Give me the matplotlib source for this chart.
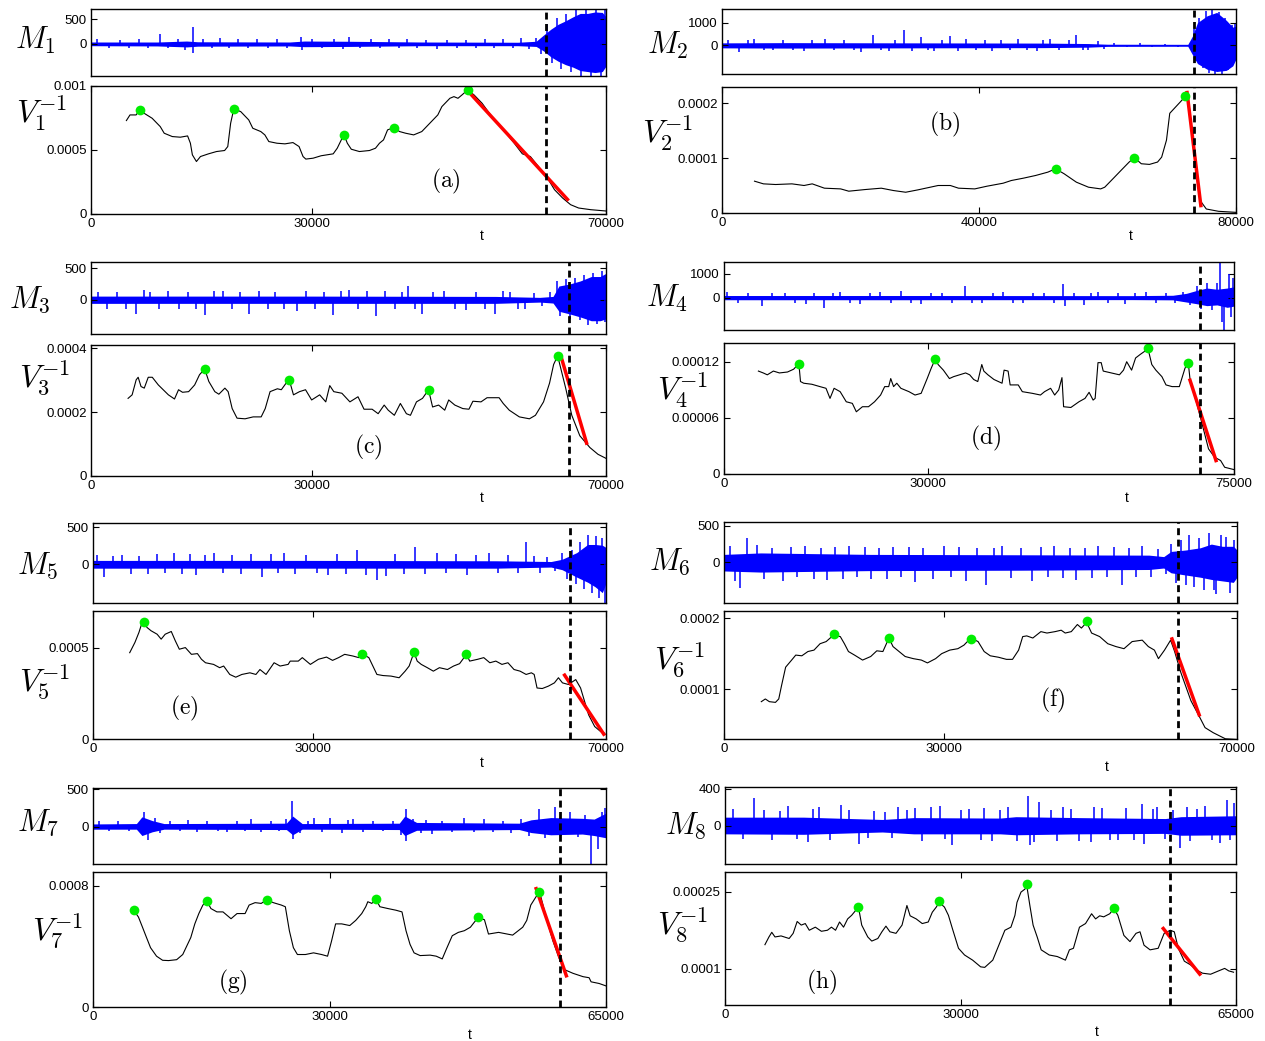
import numpy as np
import matplotlib
matplotlib.use("Agg")
import matplotlib.pyplot as plt

plt.rcParams["mathtext.fontset"] = "cm"
plt.rcParams["font.family"] = ["Liberation Sans", "DejaVu Sans"]

# ---------------- data ----------------
# (a)
a_t = [4810, 5300, 6130, 6620, 7220, 8310, 9410, 9950, 11050, 12140, 13130, 13510, 13780, 14330, 14880, 15970,
       17060, 18160, 18590, 18980, 19410, 20350, 21440, 21990, 23080, 23630, 24170, 25270, 26360, 27450, 28280,
       28820, 29200, 30190, 31280, 32920, 33470, 34020, 34400, 34840, 35380, 36480, 37850, 38670, 39210, 39760,
       40310, 41130, 41950, 42770, 43860, 44960, 46050, 47140, 47690, 48780, 49330, 49880, 50420, 51190, 52070,
       53160, 54800, 56440, 57530, 58630, 59720, 60810, 61910, 63000, 64100, 65190, 66280, 67920, 70000]
a_v = [7.30, 7.74, 7.74, 8.13, 7.87, 7.48, 6.83, 6.31, 6.05, 6.00, 6.10, 5.53, 4.62, 4.10, 4.49, 4.70, 4.88, 4.96,
       5.27, 7.09, 8.21, 8.00, 7.35, 6.70, 6.44, 6.18, 5.66, 5.53, 5.48, 5.58, 5.27, 4.49, 4.29, 4.36, 4.55, 4.70,
       5.14, 5.79, 6.18, 5.53, 5.06, 4.88, 4.96, 5.14, 5.53, 5.79, 6.57, 6.75, 6.44, 6.31, 6.18, 6.44, 7.09, 7.74,
       8.39, 9.04, 9.17, 9.04, 9.30, 9.69, 9.30, 8.65, 7.35, 6.31, 5.53, 4.70, 4.49, 3.71, 2.93, 1.90, 1.25, 0.727,
       0.467, 0.338, 0.234]  # x1e-4
a_dot_t = [6620, 19410, 34400, 41130, 51190]
a_dot_v = [8.13, 8.21, 6.18, 6.75, 9.69]
a_red_t = [51520, 64920]
a_red_v = [9.43, 1.04]
a_crit = 61910
a_mt = [0, 9000, 13000, 14500, 27000, 29000, 35000, 45000, 58000, 60500, 61500, 62500, 63500, 64500, 65500, 66500,
        67500, 68500, 69500, 70000]
a_mhi = [40, 40, 60, 45, 40, 60, 55, 40, 35, 55, 180, 300, 400, 470, 550, 620, 620, 650, 640, 550]
a_mlo = [-35, -40, -60, -45, -40, -55, -50, -35, -35, -50, -140, -260, -350, -420, -470, -540, -560, -580, -560, -450]
a_st = [800, 2500, 4000, 5200, 6500, 7800, 9400, 10500, 11800, 12800, 13800, 13900, 15200, 16400, 17500, 18800,
        20000, 21300, 22600, 24000, 25300, 26600, 28500, 28700, 30000, 31400, 33000, 34200, 35000, 36500, 38000,
        39300, 40500, 41800, 43000, 44300, 45600, 47000, 48400, 49700, 51000, 52300, 53600, 54800, 56000, 57300,
        58500, 59600, 60500, 61200, 62000, 62600, 63300, 63900, 64600, 65200, 65900, 66600, 67300, 68000, 68700,
        69300, 69800]
a_sv = [95, -80, 90, -85, 100, -90, 200, -90, 100, -120, 350, -180, 110, -90, 120, -85, 95, -90, 100, -85, 95, -90,
        140, -120, 100, -90, 110, -100, 150, -90, 100, -85, 110, -90, 95, -80, 90, -100, 85, -80, 90, -85, 100, -80,
        110, -80, 120, -100, 130, -200, 400, -380, 520, -500, 600, -560, 700, -640, 700, -650, 700, -640, 700]

# (b)
b_t = [5060, 6450, 8350, 10880, 12770, 14040, 15940, 18470, 19730, 22260, 24790, 26690, 28590, 30480, 33640, 35540,
       36810, 39340, 41230, 43760, 45030, 46920, 48820, 50720, 51920, 53250, 55150, 57040, 58940, 59570, 60840,
       62100, 63370, 64190, 65260, 66530, 67790, 68430, 69180, 69690, 70640, 71590, 72030, 72500, 73170, 73800,
       74430, 75380, 77280, 80000]
b_v = [5.81, 5.32, 5.20, 5.32, 5.02, 5.32, 4.53, 4.40, 3.98, 4.28, 4.53, 4.10, 3.79, 4.22, 5.02, 5.02, 4.53, 4.40,
       4.89, 5.44, 5.93, 6.36, 6.85, 7.46, 8.07, 7.16, 5.63, 4.71, 4.40, 4.71, 6.24, 7.77, 9.30, 10.1, 8.99, 8.87,
       9.30, 10.2, 13.3, 18.2, 19.4, 20.6, 21.3, 21.2, 14.5, 7.16, 2.26, 0.73, 0.31, 0.12]  # x1e-5
b_dot_t = [51920, 64190, 72030]
b_dot_v = [8.07, 10.1, 21.3]
b_red_t = [72350, 74560]
b_red_v = [22.3, 1.04]
b_crit = 73490
b_mt = [0, 10000, 30000, 50000, 57000, 60000, 72500, 73200, 74000, 75500, 77000, 78500, 79500, 80000]
b_mhi = [110, 120, 110, 100, 80, 50, 45, 400, 1000, 1300, 1450, 1100, 800, 850]
b_mlo = [-110, -120, -110, -100, -80, -45, -40, -400, -800, -1050, -1150, -1100, -900, -600]
b_st = [1000, 2600, 4000, 5000, 6500, 8000, 9500, 11000, 12800, 14000, 16000, 17500, 19000, 20500, 21600, 23500,
        24800, 26000, 27000, 28300, 29500, 31000, 32000, 33000, 34200, 35500, 36800, 38000, 39500, 41000, 42000,
        43500, 44800, 46000, 47500, 49000, 50000, 51000, 52500, 54000, 55100, 56200, 57000, 58500, 59500, 61000,
        63000, 65000, 67000, 69000, 71000, 73400, 73700, 74300, 74800, 75300, 75800, 76300, 76800, 77300, 77800,
        78300, 78800, 79300, 79800]
b_sv = [220, -280, 230, 260, -220, -220, 250, -200, -240, 230, 300, -220, 250, -200, -300, 450, -220, -250, 250,
        670, -230, 350, -200, -250, 250, 430, -230, 300, -220, 250, -250, 230, -210, 300, -220, -230, 250, 300,
        -200, 250, 450, -200, -200, 180, -150, 90, -80, 90, -70, 80, -70, 700, -700, 1200, -1000, 1500, -1200,
        1600, -1250, 1450, -1250, 1200, -1100, 900, 950]

# (c)
c_t = [5040, 5590, 6140, 6410, 6800, 7240, 7780, 8330, 9150, 10520, 11350, 11900, 12440, 13270, 14090, 14750,
       15460, 16010, 16830, 17380, 18200, 18640, 19190, 19850, 20940, 22040, 23130, 23680, 24340, 25330, 25870,
       26530, 26970, 27520, 28340, 29160, 29990, 31080, 31910, 32450, 33000, 34100, 35190, 36290, 37110, 38210,
       39030, 39850, 40400, 41230, 42050, 42870, 43420, 44240, 45060, 45880, 46430, 47250, 48080, 48620, 49450,
       50540, 51370, 51910, 53010, 53830, 55470, 56030, 56850, 58220, 59590, 60410, 61510, 62330, 62880, 63430,
       64520, 65350, 66440, 67810, 68910, 70000]
c_v = [2.43, 2.54, 3.01, 3.09, 2.80, 2.75, 3.09, 3.09, 2.85, 2.54, 2.41, 2.70, 2.62, 2.64, 2.85, 3.17, 3.35, 2.96,
       2.64, 2.56, 2.75, 2.64, 2.11, 1.81, 1.79, 1.85, 1.85, 2.11, 2.64, 2.73, 2.70, 2.91, 2.99, 2.54, 2.64, 2.70,
       2.38, 2.54, 2.32, 2.83, 2.64, 2.59, 2.32, 2.48, 2.09, 2.09, 1.95, 2.22, 2.06, 1.90, 2.27, 1.95, 1.90, 2.32,
       2.43, 2.70, 2.16, 2.22, 2.06, 2.38, 2.22, 2.11, 2.09, 2.34, 2.32, 2.45, 2.45, 2.27, 2.06, 1.85, 1.79, 1.90,
       2.32, 2.91, 3.49, 3.76, 2.75, 1.90, 1.26, 0.891, 0.679, 0.552]  # x1e-4
c_dot_t = [15460, 26970, 45880, 63430]
c_dot_v = [3.35, 2.99, 2.70, 3.76]
c_red_t = [63860, 67430]
c_red_v = [3.76, 0.976]
c_crit = 64960
c_mt = [0, 30000, 55000, 61000, 62800, 63600, 65000, 66500, 68000, 69200, 70000]
c_mhi = [60, 60, 55, 40, 55, 220, 250, 300, 370, 370, 420]
c_mlo = [-55, -55, -55, -35, -50, -180, -220, -270, -330, -330, -300]
c_st = [1000, 2200, 3500, 4800, 6100, 7200, 8000, 9300, 10500, 12000, 13200, 14300, 15500, 16700, 18000, 19200,
        20300, 21500, 22800, 24000, 25000, 26300, 28000, 29200, 30500, 31700, 32900, 34000, 35000, 36300, 37500,
        38800, 40000, 41300, 42300, 43100, 44000, 45000, 46500, 48000, 49500, 51000, 52300, 53500, 54900, 56000,
        57000, 58000, 59000, 60200, 61300, 62400, 63300, 63800, 64500, 65100, 65800, 66400, 67000, 67600, 68200,
        68800, 69400, 69900]
c_sv = [120, -150, 130, -140, -230, 150, 130, -150, 140, -150, 130, -140, -240, 140, 140, -150, 130, -220, 140,
        -150, 130, -140, -170, 140, -150, 130, -240, 140, 150, -150, 140, -260, 140, -150, 130, 220, -150, -230,
        130, 140, -150, -160, 130, -140, -230, 140, 130, -140, -140, 110, -90, 120, 300, -250, 330, -300, 350,
        -320, 400, -400, 430, -380, 460, -350]

# (d)
d_t = [5060, 5770, 6370, 7260, 8150, 9340, 10240, 11010, 11250, 11730, 12920, 14110, 15000, 15590, 16190, 17080,
       17980, 18870, 19460, 20360, 21250, 22140, 23030, 23630, 24220, 24520, 24940, 25410, 26010, 27200, 28090,
       28990, 29880, 30470, 31070, 31490, 32260, 33150, 33750, 34640, 35530, 36130, 36720, 37320, 37910, 38210,
       38810, 39700, 40890, 41190, 41780, 42080, 43270, 43870, 45350, 46540, 47140, 48030, 48630, 49220, 49700,
       49940, 51010, 52200, 53090, 53690, 54280, 54580, 55000, 55470, 55770, 56960, 58150, 58750, 59220, 59940,
       60530, 61250, 61840, 62320, 62910, 63510, 64400, 65000, 65890, 66960, 67790, 68270, 68570, 69460, 70360,
       71250, 72140, 73030, 73630, 75000]
d_v = [11.0, 10.8, 10.6, 11.0, 10.8, 10.9, 11.2, 11.8, 9.88, 9.70, 9.59, 9.34, 9.16, 8.08, 9.16, 8.80, 7.72, 7.55,
       6.65, 7.19, 7.19, 7.72, 8.44, 9.34, 9.34, 10.2, 9.34, 9.70, 9.16, 8.80, 8.44, 8.62, 10.2, 11.3, 12.3, 11.7,
       11.1, 10.2, 10.4, 10.6, 10.8, 10.6, 10.1, 9.88, 11.7, 11.0, 10.6, 10.1, 9.70, 11.1, 11.0, 9.52, 9.52, 8.80,
       8.62, 8.44, 8.80, 9.16, 8.44, 8.98, 10.3, 7.19, 7.11, 7.72, 8.08, 8.73, 7.90, 8.08, 11.9, 11.9, 11.0, 10.8,
       10.6, 11.1, 12.0, 11.1, 12.4, 12.8, 13.1, 13.5, 11.7, 11.1, 10.4, 9.52, 9.34, 9.34, 11.3, 11.9, 9.88, 7.72,
       5.21, 2.69, 1.80, 1.44, 0.72, 0.47]  # x1e-5
d_dot_t = [11010, 31070, 62320, 68270]
d_dot_v = [11.8, 12.3, 13.5, 11.9]
d_red_t = [68450, 72430]
d_red_v = [10.2, 1.26]
d_crit = 69940
d_mt = [0, 30000, 60000, 66000, 68000, 69500, 71000, 72500, 74000, 75000]
d_mhi = [90, 90, 85, 100, 180, 300, 400, 350, 400, 450]
d_mlo = [-85, -85, -80, -90, -180, -250, -330, -300, -400, -350]
d_st = [500, 2000, 3500, 5600, 7000, 9000, 10500, 12000, 13200, 14700, 16000, 17000, 18500, 20000, 21500, 23000,
        24500, 26000, 27500, 29000, 30500, 32000, 33500, 35500, 36500, 38000, 39500, 41000, 42500, 44000, 45500,
        47000, 48500, 49800, 50100, 51500, 53000, 54000, 55000, 56500, 58000, 59000, 60500, 62000, 63500, 65000,
        66300, 67500, 68500, 69500, 70200, 71000, 71800, 72500, 73000, 73200, 73600, 74200, 74500, 74900]
d_sv = [250, -200, 180, -340, 200, 200, -220, -250, 200, -410, 200, 230, -220, -260, 200, 220, -220, 280, -200,
        -260, 200, 200, -220, 500, -200, -230, 200, 230, -210, -240, 200, 200, -220, 550, -350, 200, -300, 200,
        250, -220, 200, -260, 200, 230, -220, 200, -200, 250, -300, 500, -450, 600, -500, 600, 1480, -1000, -1340,
        1000, -800, 800]

# (e)
e_t = [5010, 5720, 6270, 6660, 6930, 7370, 7920, 8750, 9300, 9850, 10680, 11230, 11780, 12600, 13430, 14250, 14800,
       15350, 16450, 17280, 17830, 18660, 19480, 20310, 21410, 22230, 22780, 23610, 24710, 25530, 26630, 26910,
       28010, 28560, 29660, 30760, 31860, 32690, 33510, 34340, 35440, 36270, 36650, 37640, 38190, 38740, 39570,
       40670, 41770, 42590, 43140, 43800, 44240, 44790, 45620, 46440, 47270, 48370, 49200, 50020, 50960, 51400,
       52500, 53320, 54150, 54970, 55800, 56620, 57450, 58280, 59100, 59820, 60200, 60590, 61300, 62130, 62960,
       63510, 64060, 64880, 65870, 66530, 67630, 68460, 69280, 69830]
e_v = [4.72, 5.28, 5.83, 6.32, 6.41, 6.10, 5.92, 5.73, 5.46, 5.73, 5.88, 5.37, 4.91, 5.00, 4.63, 4.67, 4.36, 4.17,
       4.08, 3.90, 3.99, 3.53, 3.38, 3.53, 3.62, 3.53, 3.80, 3.53, 4.17, 3.99, 4.08, 4.26, 4.26, 4.45, 4.08, 4.36,
       4.48, 4.30, 4.45, 4.63, 4.54, 4.45, 4.67, 4.45, 3.99, 3.53, 3.47, 3.44, 3.35, 3.71, 3.99, 4.74, 4.26, 4.08,
       3.90, 3.71, 3.90, 3.80, 3.99, 4.12, 4.63, 4.26, 4.36, 4.45, 4.17, 4.26, 4.08, 4.17, 3.80, 3.71, 3.53, 3.62,
       3.53, 2.79, 2.76, 2.89, 3.07, 3.35, 3.07, 2.98, 3.25, 2.79, 1.32, 0.680, 0.404, 0.312]  # x1e-4
e_dot_t = [6930, 36650, 43800, 50960]
e_dot_v = [6.41, 4.67, 4.74, 4.63]
e_red_t = [64220, 69830]
e_red_v = [3.57, 0.184]
e_crit = 65050
e_mt = [0, 30000, 55000, 62500, 64000, 66000, 67500, 68500, 69500, 70000]
e_mhi = [55, 55, 50, 40, 70, 160, 270, 270, 260, 230]
e_mlo = [-50, -50, -50, -35, -70, -170, -240, -300, -380, -250]
e_st = [600, 1500, 2700, 4000, 5200, 6300, 7500, 8700, 9800, 11000, 12200, 13200, 14000, 15300, 16500, 17700,
        19000, 20200, 21500, 23000, 24300, 25300, 26000, 27500, 29000, 30500, 32000, 33300, 34500, 36000, 37300,
        38700, 40000, 41200, 42500, 44000, 45300, 47000, 48200, 49500, 51000, 52300, 54000, 55300, 56600, 58000,
        59100, 60200, 61000, 62000, 63000, 64000, 64700, 65300, 65900, 66500, 67000, 67600, 68100, 68600, 69100,
        69500, 69800]
e_sv = [130, -170, 120, 130, -130, 120, -130, 140, -120, 150, -130, 140, -140, 130, 150, -120, 130, -130, 140, -170,
        140, -120, 150, -130, 130, -120, -140, 140, -130, 200, -140, -210, -160, 140, -130, 230, -130, 150, -120,
        140, -140, 130, 160, -120, 130, -110, 300, 110, -120, 100, -90, 150, -200, 200, -260, 300, -330, 400, -380,
        380, -450, 360, -520]

# (f)
f_t = [5090, 5640, 6190, 7020, 7470, 7850, 8410, 9230, 9790, 10620, 11450, 12280, 13110, 13940, 14490, 15040,
       15870, 16430, 16980, 17810, 18910, 20020, 20850, 21680, 22510, 23060, 23890, 24720, 25830, 26930, 27760,
       28870, 29700, 30800, 31910, 32740, 33680, 34670, 35500, 36330, 37440, 38540, 39370, 40200, 40760, 41310,
       42140, 43240, 44070, 45180, 46010, 46560, 47390, 48220, 48770, 49490, 50160, 51260, 52370, 53470, 54580,
       55690, 57070, 57900, 58730, 59280, 60110, 60940, 61490, 62320, 63710, 64810, 65640, 66750, 68410, 69900]
f_v = [8.25, 8.63, 8.25, 8.15, 8.63, 10.5, 13.1, 14.1, 14.8, 14.7, 15.3, 15.5, 16.4, 16.7, 17.2, 17.6, 17.4, 16.4,
       15.3, 14.8, 14.1, 14.6, 15.4, 15.3, 17.2, 16.0, 15.3, 14.6, 14.3, 14.1, 13.7, 14.3, 15.0, 15.5, 15.7, 16.2,
       17.2, 16.7, 15.3, 14.7, 14.5, 14.2, 14.2, 15.5, 17.4, 17.5, 17.2, 18.1, 17.9, 18.1, 18.3, 17.9, 18.1, 19.1,
       18.6, 19.4, 17.9, 17.4, 16.4, 16.0, 15.7, 16.7, 16.9, 16.0, 15.5, 14.3, 15.5, 16.9, 15.3, 12.4, 8.39, 6.26,
       4.60, 3.89, 3.03, 2.94]  # x1e-5
f_dot_t = [15040, 22510, 33680, 49490]
f_dot_v = [17.7, 17.2, 17.1, 19.6]
f_red_t = [61050, 64920]
f_red_v = [17.3, 6.16]
f_crit = 61940
f_mt = [0, 5000, 20000, 40000, 58000, 60000, 61000, 63000, 65000, 66500, 68000, 69500, 70000]
f_mhi = [110, 130, 110, 105, 100, 80, 150, 170, 200, 250, 220, 220, 170]
f_mlo = [-115, -130, -110, -105, -95, -75, -140, -170, -200, -230, -250, -270, -200]
f_st = [800, 1500, 2200, 3150, 4500, 5500, 6500, 8000, 9200, 10000, 11000, 12300, 13200, 14000, 15200, 16200,
        17000, 18200, 19200, 20000, 21200, 22200, 23000, 24200, 25200, 26000, 27200, 28500, 30000, 31000, 32000,
        33000, 34500, 35800, 36800, 38000, 39200, 40500, 42000, 43200, 44200, 45000, 46200, 47200, 48000, 49200,
        50200, 51000, 52200, 53200, 54300, 55300, 56200, 57000, 58200, 59200, 60300, 61000, 61700, 62300, 63000,
        63500, 64200, 64800, 65500, 66200, 66800, 67200, 67800, 68500, 69000, 69600]
f_sv = [230, -250, -350, 330, 240, -220, 200, -250, 210, -200, 220, -220, 200, -240, 210, -220, 230, -200, 210,
        -230, 200, -220, 210, -200, 210, -260, 200, -220, 220, -200, 210, -250, 200, -310, 200, 230, -210, 200,
        -250, 210, -200, 220, -210, 200, -240, 200, -210, 220, -200, 210, -300, 200, -200, 230, -200, 180, -150,
        250, -280, 300, -300, 380, -330, 330, -380, 400, -380, -430, 370, 350, -420, 300]

# (g)
g_t = [5150, 5760, 6270, 6780, 7290, 8050, 8820, 9580, 10600, 11370, 11880, 12390, 12900, 13410, 13920, 14430,
       14940, 15700, 16470, 17490, 18250, 19270, 19780, 20540, 21310, 22020, 22840, 23860, 24370, 24880, 25390,
       25900, 26920, 27940, 28960, 29720, 30230, 30740, 31510, 32530, 33290, 34050, 34560, 34820, 35330, 35840,
       36350, 37370, 38390, 39150, 39660, 40170, 40680, 41450, 42720, 43490, 44250, 44760, 45520, 46290, 47050,
       47820, 48330, 48840, 49600, 50110, 51390, 53170, 54450, 54960, 55470, 56480, 56740, 57510, 58270, 59040,
       59800, 60820, 62090, 62860, 63110, 64130, 65000]
g_v = [6.38, 5.93, 5.26, 4.58, 3.91, 3.35, 3.08, 3.06, 3.12, 3.46, 4.02, 4.58, 5.48, 6.16, 6.72, 6.99, 6.49, 6.27,
       6.27, 5.82, 6.16, 6.16, 6.72, 6.88, 6.83, 7.06, 6.88, 6.72, 6.61, 5.03, 3.91, 3.46, 3.46, 3.57, 3.46, 3.35,
       4.36, 5.48, 5.48, 5.37, 5.71, 6.16, 6.61, 6.94, 6.83, 7.12, 6.61, 6.49, 6.38, 6.27, 5.03, 4.13, 3.57, 3.39,
       3.42, 3.35, 3.17, 3.80, 4.70, 4.92, 5.03, 5.26, 5.60, 5.91, 5.75, 4.81, 4.92, 4.74, 5.26, 5.71, 6.72, 7.55,
       7.28, 5.71, 4.36, 3.24, 2.45, 2.22, 2.00, 1.93, 1.66, 1.55, 1.39]  # x1e-4
g_dot_t = [5150, 14430, 22020, 35840, 48840, 56480]
g_dot_v = [6.42, 6.99, 7.06, 7.12, 5.91, 7.55]
g_red_t = [56080, 60050]
g_red_v = [7.91, 1.95]
g_crit = 59140
g_mt = [0, 5500, 6200, 7500, 9000, 24500, 25300, 26500, 38800, 39500, 41000, 54000, 55500, 58000, 62000, 63500, 65000]
g_mhi = [35, 40, 130, 80, 40, 45, 140, 40, 45, 140, 55, 45, 90, 120, 110, 100, 180]
g_mlo = [-35, -35, -120, -70, -35, -40, -110, -35, -40, -120, -50, -40, -80, -110, -100, -120, -150]
g_st = [800, 2000, 3200, 4500, 6500, 7000, 7800, 8500, 9800, 11000, 12000, 13200, 14500, 15800, 17000, 18200,
        19200, 20000, 21300, 22500, 23600, 24500, 25200, 25300, 26200, 27200, 28000, 29000, 30000, 31500, 32300,
        33000, 34200, 35500, 36700, 38000, 39000, 39600, 39700, 40500, 41500, 42200, 43000, 44200, 45500, 47000,
        48300, 49500, 50700, 52000, 53000, 54200, 55300, 56500, 57300, 58500, 59300, 60500, 61500, 62300, 63100,
        64000, 64500, 64900]
g_sv = [70, -60, 75, -65, 200, -180, 120, -90, 70, -60, 90, -70, 80, -65, -70, 80, -60, 100, -70, 75, -60, 100,
        345, -170, -80, 80, 120, -70, 110, -90, 90, 100, -70, 80, -65, 80, -110, 235, -190, 100, -80, 90, -100, 80,
        -70, 120, -70, 100, -70, 80, -90, 100, -120, 230, -150, 260, -130, 190, -140, 150, -500, -300, 200, 250]

# (h)
h_t = [5080, 5590, 5950, 6360, 7130, 8160, 8670, 9180, 9700, 10210, 10720, 11490, 12260, 13030, 13540, 14060, 14570,
       15080, 15600, 16110, 16980, 17390, 18160, 18670, 19440, 19960, 20470, 20980, 21750, 22520, 23140, 23550,
       24320, 25090, 25850, 26370, 26880, 27240, 27910, 28420, 28930, 29700, 30470, 31500, 32520, 33040, 34060,
       34830, 35600, 36370, 36880, 37140, 37650, 38170, 38370, 38780, 39190, 39710, 40220, 41240, 42270, 43300,
       43810, 44320, 45090, 45860, 46630, 47140, 47660, 48170, 48940, 49450, 49970, 50740, 51510, 52280, 52790,
       53300, 54070, 55100, 55860, 56640, 57150, 57660, 58430, 59200, 59970, 60740, 61770, 62790, 63560, 64070, 64690]
h_v = [14.7, 16.2, 17.1, 16.2, 16.4, 15.9, 16.9, 19.2, 18.5, 18.8, 17.5, 18.1, 17.3, 17.5, 18.1, 17.5, 19.1, 18.1,
       19.7, 20.4, 22.0, 18.5, 16.2, 15.4, 15.9, 17.2, 18.3, 17.2, 16.9, 18.5, 22.3, 20.3, 19.7, 18.8, 19.1, 21.0,
       22.0, 22.9, 22.0, 20.4, 17.8, 14.0, 12.7, 11.7, 10.4, 10.3, 11.7, 14.6, 17.5, 18.1, 20.4, 22.9, 24.9, 25.5,
       26.3, 22.3, 18.5, 16.2, 13.7, 12.7, 12.4, 11.7, 13.7, 14.0, 18.1, 18.8, 20.7, 19.7, 20.3, 20.1, 20.7, 21.7,
       20.4, 16.5, 15.3, 16.9, 17.2, 14.6, 13.7, 14.0, 16.9, 17.5, 17.2, 14.0, 11.5, 10.8, 9.81, 9.17, 8.97, 9.62,
       10.1, 9.62, 9.36]  # x1e-5
h_dot_t = [16980, 27240, 38370, 49450]
h_dot_v = [22.1, 23.1, 26.4, 21.8]
h_red_t = [55610, 60530]
h_red_v = [18.1, 8.72]
h_crit = 56630
h_mt = [0, 10000, 20000, 24000, 35000, 37000, 45000, 56000, 58000, 65000]
h_mhi = [95, 95, 70, 90, 85, 100, 90, 80, 100, 110]
h_mlo = [-85, -90, -65, -85, -85, -95, -85, -80, -100, -95]
h_st = [1000, 2300, 3700, 5000, 6000, 7000, 8000, 9200, 10500, 11200, 12000, 13300, 14800, 15800, 17100, 18200,
        19000, 20300, 21200, 22000, 23200, 24200, 25000, 26200, 27400, 28000, 28900, 30000, 31000, 32500, 33000,
        34000, 35000, 36000, 37200, 38600, 38800, 39300, 40000, 41500, 42200, 43000, 44000, 45000, 46500, 47000,
        48000, 49000, 50000, 51000, 52000, 53000, 53300, 54500, 55000, 56000, 57000, 57900, 58800, 59200, 60000,
        61000, 62000, 63000, 63800, 64300, 64800]
h_sv = [180, -140, 300, 170, -150, 160, 220, -140, -170, 180, 200, -150, 230, 170, -190, -130, 160, 150, -130, 200,
        170, 190, -160, 200, 220, -140, -210, 170, 180, -150, 190, -160, 170, 200, -160, 320, -200, -170, 260, 170,
        -160, 200, 180, -160, -170, 200, 190, -150, -150, 190, -150, 240, -190, 180, 200, -140, 170, -240, 200,
        -160, 180, 210, -150, -180, 280, -150, 250]

# ---------------- axis settings ----------------
panels = [
    dict(tag="a", n=1, t=a_t, v=a_v, unit=1e-4, dt=a_dot_t, dv=a_dot_v, rt=a_red_t, rv=a_red_v, crit=a_crit,
         mt=a_mt, mhi=a_mhi, mlo=a_mlo, st=a_st, sv=a_sv, tmax=70000, xt=[0, 30000, 70000],
         vlim=(0, 0.001), vt=[0, 0.0005, 0.001], vtl=["0", "0.0005", "0.001"],
         mlim=(-650, 710), mtk=[0, 500],
         box=(91, 606, 9, 76, 86, 214), Mxy=(35, 40), Vxy=(42, 113), Txy=(446, 181), txy=(482, 236)),
    dict(tag="b", n=2, t=b_t, v=b_v, unit=1e-5, dt=b_dot_t, dv=b_dot_v, rt=b_red_t, rv=b_red_v, crit=b_crit,
         mt=b_mt, mhi=b_mhi, mlo=b_mlo, st=b_st, sv=b_sv, tmax=80000, xt=[0, 40000, 80000],
         vlim=(0, 0.00023), vt=[0, 0.0001, 0.0002], vtl=["0", "0.0001", "0.0002"],
         mlim=(-1260, 1600), mtk=[0, 1000],
         box=(722, 1236, 9, 74, 87, 213), Mxy=(668, 45), Vxy=(668, 133), Txy=(945, 124), txy=(1131, 236)),
    dict(tag="c", n=3, t=c_t, v=c_v, unit=1e-4, dt=c_dot_t, dv=c_dot_v, rt=c_red_t, rv=c_red_v, crit=c_crit,
         mt=c_mt, mhi=c_mhi, mlo=c_mlo, st=c_st, sv=c_sv, tmax=70000, xt=[0, 30000, 70000],
         vlim=(0, 0.00041), vt=[0, 0.0002, 0.0004], vtl=["0", "0.0002", "0.0004"],
         mlim=(-540, 600), mtk=[0, 500],
         box=(91, 606, 262, 334, 345, 476), Mxy=(30, 300), Vxy=(45, 378), Txy=(368, 447), txy=(482, 498)),
    dict(tag="d", n=4, t=d_t, v=d_v, unit=1e-5, dt=d_dot_t, dv=d_dot_v, rt=d_red_t, rv=d_red_v, crit=d_crit,
         mt=d_mt, mhi=d_mhi, mlo=d_mlo, st=d_st, sv=d_sv, tmax=75000, xt=[0, 30000, 75000],
         vlim=(0, 0.00014), vt=[0, 0.00006, 0.00012], vtl=["0", "0.00006", "0.00012"],
         mlim=(-1340, 1480), mtk=[0, 1000],
         box=(724, 1234, 262, 330, 343, 474), Mxy=(667, 298), Vxy=(683, 390), Txy=(986, 438), txy=(1127, 498)),
    dict(tag="e", n=5, t=e_t, v=e_v, unit=1e-4, dt=e_dot_t, dv=e_dot_v, rt=e_red_t, rv=e_red_v, crit=e_crit,
         mt=e_mt, mhi=e_mhi, mlo=e_mlo, st=e_st, sv=e_sv, tmax=70000, xt=[0, 30000, 70000],
         vlim=(0, 0.0007), vt=[0, 0.0005], vtl=["0", "0.0005"],
         mlim=(-520, 560), mtk=[0, 500],
         box=(93, 606, 523, 603, 611, 739), Mxy=(38, 566), Vxy=(45, 682), Txy=(184, 708), txy=(482, 763)),
    dict(tag="f", n=6, t=f_t, v=f_v, unit=1e-5, dt=f_dot_t, dv=f_dot_v, rt=f_red_t, rv=f_red_v, crit=f_crit,
         mt=f_mt, mhi=f_mhi, mlo=f_mlo, st=f_st, sv=f_sv, tmax=70000, xt=[0, 30000, 70000],
         vlim=(0.00003, 0.00021), vt=[0.0001, 0.0002], vtl=["0.0001", "0.0002"],
         mlim=(-550, 550), mtk=[0, 500],
         box=(724, 1237, 522, 603, 611, 739), Mxy=(670, 562), Vxy=(680, 660), Txy=(1053, 700), txy=(1107, 767)),
    dict(tag="g", n=7, t=g_t, v=g_v, unit=1e-4, dt=g_dot_t, dv=g_dot_v, rt=g_red_t, rv=g_red_v, crit=g_crit,
         mt=g_mt, mhi=g_mhi, mlo=g_mlo, st=g_st, sv=g_sv, tmax=65000, xt=[0, 30000, 65000],
         vlim=(0, 0.00089), vt=[0, 0.0008], vtl=["0", "0.0008"],
         mlim=(-500, 515), mtk=[0, 500],
         box=(93, 606, 788, 864, 872, 1007), Mxy=(38, 823), Vxy=(58, 931), Txy=(233, 982), txy=(470, 1035)),
    dict(tag="h", n=8, t=h_t, v=h_v, unit=1e-5, dt=h_dot_t, dv=h_dot_v, rt=h_red_t, rv=h_red_v, crit=h_crit,
         mt=h_mt, mhi=h_mhi, mlo=h_mlo, st=h_st, sv=h_sv, tmax=65000, xt=[0, 30000, 65000],
         vlim=(0.00003, 0.000288), vt=[0.0001, 0.00025], vtl=["0.0001", "0.00025"],
         mlim=(-410, 420), mtk=[0, 400],
         box=(725, 1236, 787, 864, 872, 1005), Mxy=(686, 826), Vxy=(683, 925), Txy=(822, 982), txy=(1097, 1032)),
]

W, H = 1265, 1041
fig = plt.figure(figsize=(W / 100, H / 100), dpi=100)


def add_ax(l, r, t, b):
    return fig.add_axes([l / W, 1 - b / H, (r - l) / W, (b - t) / H])


def style(ax):
    ax.tick_params(direction="in", top=True, right=True, length=4, width=0.8, labelsize=9.5, pad=3)
    for s in ax.spines.values():
        s.set_linewidth(1.0)


def fx(x):
    return x / W


def fy(y):
    return 1 - y / H


blue = "#0000ff"
for p in panels:
    l, r, mt_, mb_, vt_, vb_ = p["box"]

    # top: signal (dense band + the spikes)
    axm = add_ax(l, r, mt_, mb_)
    axm.fill_between(p["mt"], p["mlo"], p["mhi"], color=blue, lw=0)
    axm.vlines(p["st"], 0, p["sv"], color=blue, lw=1.1)
    axm.axvline(p["crit"], color="k", lw=2, ls=(0, (2.5, 1.6)))
    axm.set_xlim(0, p["tmax"])
    axm.set_ylim(*p["mlim"])
    axm.set_xticks([])
    axm.set_yticks(p["mtk"])
    axm.set_yticklabels([str(v) for v in p["mtk"]])
    style(axm)

    # bottom: inverse variance
    axv = add_ax(l, r, vt_, vb_)
    axv.plot(p["t"], np.array(p["v"]) * p["unit"], color="k", lw=0.8)
    axv.plot(p["rt"], np.array(p["rv"]) * p["unit"], color="#ff0000", lw=2.5, solid_capstyle="butt")
    axv.plot(p["dt"], np.array(p["dv"]) * p["unit"], "o", color="#00ee00", ms=7, mec="none")
    axv.axvline(p["crit"], color="k", lw=2, ls=(0, (2.5, 1.6)))
    axv.set_xlim(0, p["tmax"])
    axv.set_ylim(*p["vlim"])
    axv.set_xticks(p["xt"])
    axv.set_xticklabels([str(v) for v in p["xt"]])
    axv.set_yticks(p["vt"])
    axv.set_yticklabels(p["vtl"])
    style(axv)

    fig.text(fx(p["Mxy"][0]), fy(p["Mxy"][1]), r"$M_{%d}$" % p["n"], fontsize=22, ha="center", va="center")
    fig.text(fx(p["Vxy"][0]), fy(p["Vxy"][1]), r"$V_{%d}^{-1}$" % p["n"], fontsize=23, ha="center", va="center")
    fig.text(fx(p["Txy"][0]), fy(p["Txy"][1]), r"$\mathrm{(%s)}$" % p["tag"], fontsize=17, ha="center", va="center")
    fig.text(fx(p["txy"][0]), fy(p["txy"][1]), "t", fontsize=10, ha="center", va="center")

fig.savefig("out.png", dpi=100)
